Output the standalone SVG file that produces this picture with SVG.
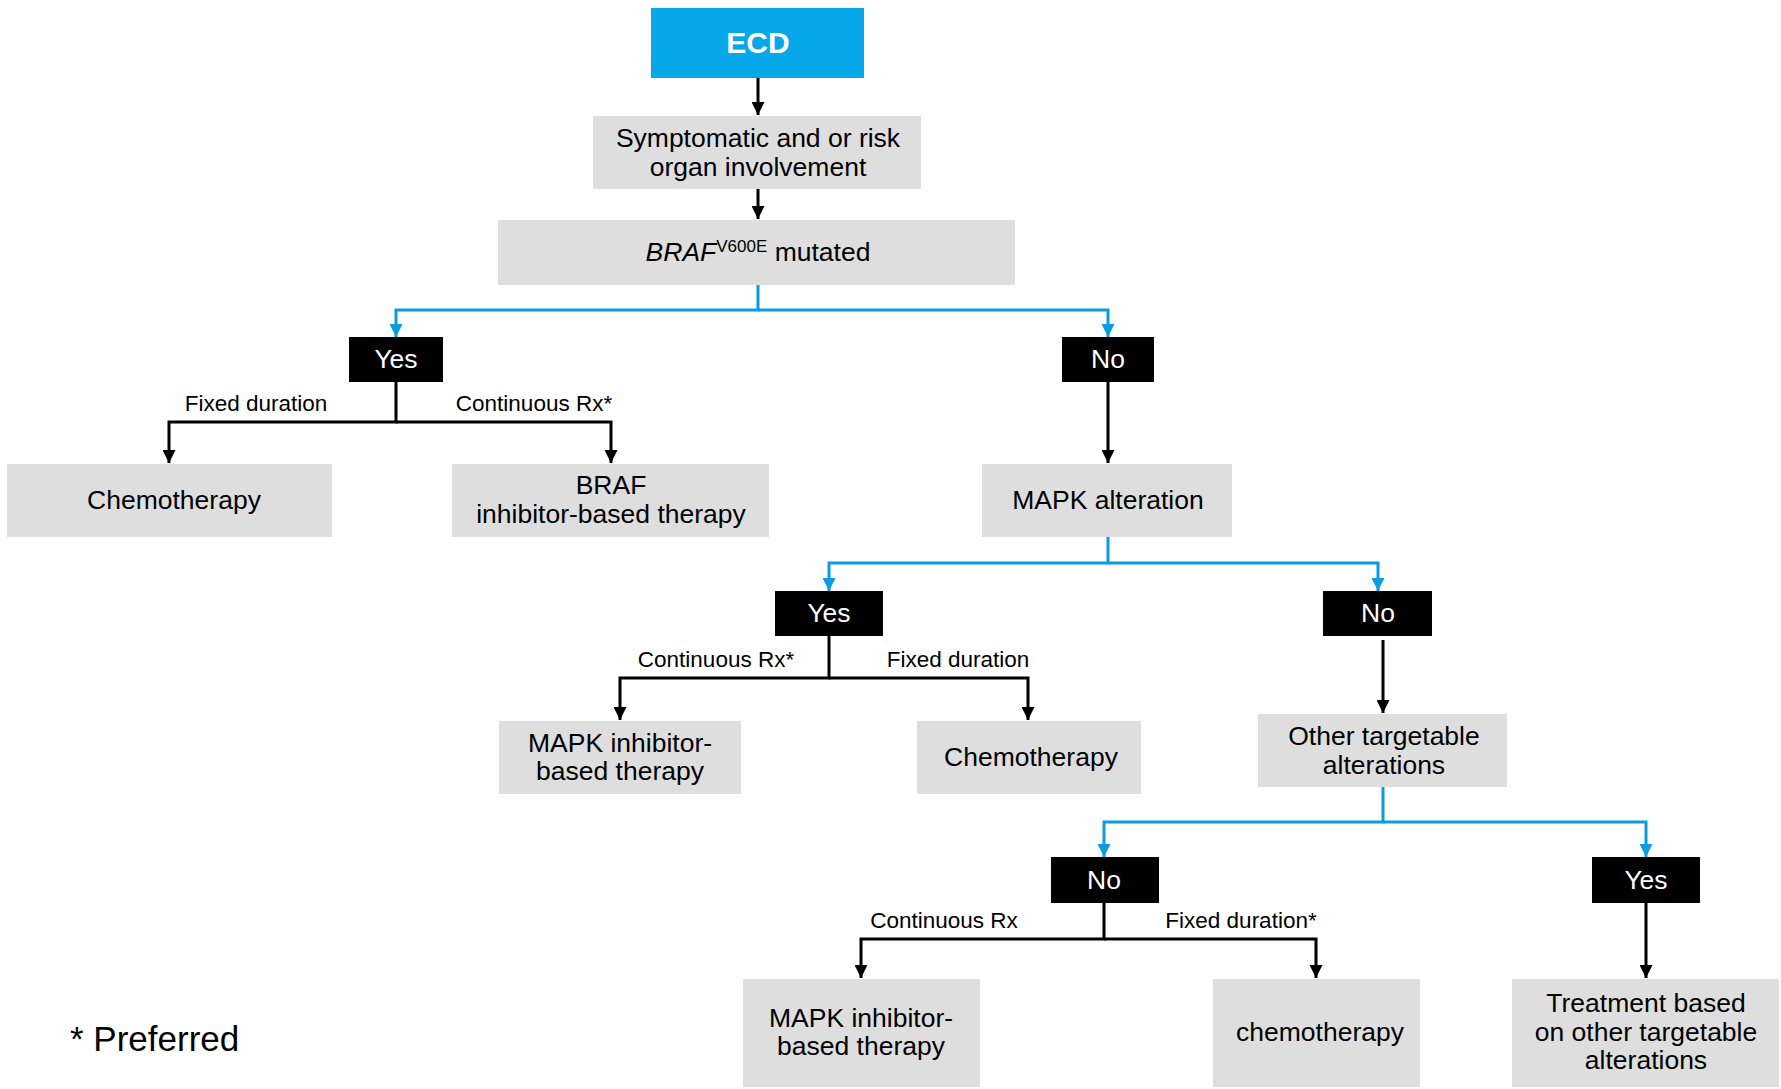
<svg xmlns="http://www.w3.org/2000/svg" width="1781" height="1089" viewBox="0 0 1781 1089">
<style>
  .box { fill: #dedede; }
  .dec { fill: #000; }
  .t { font-family: "Liberation Sans", Arial, sans-serif; font-size: 26.5px; fill: #000; text-anchor: middle; }
  .w { fill: #fff; }
  .lbl { font-family: "Liberation Sans", Arial, sans-serif; font-size: 22.5px; fill: #000; text-anchor: middle; }
  .k { fill: none; stroke: #000; stroke-width: 3; marker-end: url(#ak); }
  .b { fill: none; stroke: #0a9be0; stroke-width: 3; marker-end: url(#ab); }
</style>
<defs>
  <marker id="ak" viewBox="0 0 13 13" markerUnits="userSpaceOnUse" markerWidth="13" markerHeight="13" refX="13" refY="6.5" orient="auto">
    <path d="M0,0 L13,6.5 L0,13 z" fill="#000"/>
  </marker>
  <marker id="ab" viewBox="0 0 13 13" markerUnits="userSpaceOnUse" markerWidth="13" markerHeight="13" refX="13" refY="6.5" orient="auto">
    <path d="M0,0 L13,6.5 L0,13 z" fill="#0a9be0"/>
  </marker>
</defs>
<rect width="1781" height="1089" fill="#fff"/>

<g id="connectors">
  <path class="k" d="M758,77 V115"/>
  <path class="k" d="M758,189 V219"/>
  <path class="b" d="M758,285 V310 H396 V337"/>
  <path class="b" d="M758,310 H1108 V337"/>
  <path class="k" d="M396,382 V422 H169 V463"/>
  <path class="k" d="M396,422 H611 V463"/>
  <path class="k" d="M1108,382 V463"/>
  <path class="b" d="M1108,536 V563 H829 V591"/>
  <path class="b" d="M1108,563 H1378 V591"/>
  <path class="k" d="M829,636 V678 H620 V720"/>
  <path class="k" d="M829,678 H1028 V720"/>
  <path class="k" d="M1383,640 V713"/>
  <path class="b" d="M1383,786 V822 H1104 V857"/>
  <path class="b" d="M1383,822 H1646 V857"/>
  <path class="k" d="M1104,903 V939 H861 V978"/>
  <path class="k" d="M1104,939 H1316 V978"/>
  <path class="k" d="M1646,903 V978"/>
</g>

<g id="edge-labels">
  <text class="lbl" x="256" y="411">Fixed duration</text>
  <text class="lbl" x="534" y="411">Continuous Rx*</text>
  <text class="lbl" x="716" y="667">Continuous Rx*</text>
  <text class="lbl" x="958" y="667">Fixed duration</text>
  <text class="lbl" x="944" y="928">Continuous Rx</text>
  <text class="lbl" x="1241" y="928">Fixed duration*</text>
</g>

<g id="ecd">
  <rect x="651" y="8" width="213" height="70" fill="#06a8ea"/>
  <text x="758" y="53" font-family="Liberation Sans, Arial, sans-serif" font-size="30" font-weight="bold" fill="#fff" text-anchor="middle">ECD</text>
</g>
<g id="symptomatic">
  <rect class="box" x="593" y="116" width="328" height="73"/>
  <text class="t" x="758" y="147">Symptomatic and or risk</text>
  <text class="t" x="758" y="176">organ involvement</text>
</g>
<g id="braf">
  <rect class="box" x="498" y="220" width="517" height="65"/>
  <text class="t" x="758" y="261"><tspan font-style="italic">BRAF</tspan><tspan font-size="17" dy="-9">V600E</tspan><tspan dy="9"> mutated</tspan></text>
</g>
<g id="yes1">
  <rect class="dec" x="349" y="337" width="94" height="45"/>
  <text class="t w" x="396" y="368">Yes</text>
</g>
<g id="no1">
  <rect class="dec" x="1062" y="337" width="92" height="45"/>
  <text class="t w" x="1108" y="368">No</text>
</g>
<g id="chemo1">
  <rect class="box" x="7" y="464" width="325" height="73"/>
  <text class="t" x="174" y="509">Chemotherapy</text>
</g>
<g id="braf-inhib">
  <rect class="box" x="452" y="464" width="317" height="73"/>
  <text class="t" x="611" y="494">BRAF</text>
  <text class="t" x="611" y="523">inhibitor-based therapy</text>
</g>
<g id="mapk-alt">
  <rect class="box" x="982" y="464" width="250" height="73"/>
  <text class="t" x="1108" y="509">MAPK alteration</text>
</g>
<g id="yes2">
  <rect class="dec" x="775" y="591" width="108" height="45"/>
  <text class="t w" x="829" y="622">Yes</text>
</g>
<g id="no2">
  <rect class="dec" x="1323" y="591" width="109" height="45"/>
  <text class="t w" x="1378" y="622">No</text>
</g>
<g id="mapk-inhib1">
  <rect class="box" x="499" y="721" width="242" height="73"/>
  <text class="t" x="620" y="752">MAPK inhibitor-</text>
  <text class="t" x="620" y="780">based therapy</text>
</g>
<g id="chemo2">
  <rect class="box" x="917" y="721" width="224" height="73"/>
  <text class="t" x="1031" y="766">Chemotherapy</text>
</g>
<g id="other">
  <rect class="box" x="1258" y="714" width="249" height="73"/>
  <text class="t" x="1384" y="745">Other targetable</text>
  <text class="t" x="1384" y="774">alterations</text>
</g>
<g id="no3">
  <rect class="dec" x="1051" y="857" width="108" height="46"/>
  <text class="t w" x="1104" y="889">No</text>
</g>
<g id="yes3">
  <rect class="dec" x="1592" y="857" width="108" height="46"/>
  <text class="t w" x="1646" y="889">Yes</text>
</g>
<g id="mapk-inhib2">
  <rect class="box" x="743" y="979" width="237" height="108"/>
  <text class="t" x="861" y="1027">MAPK inhibitor-</text>
  <text class="t" x="861" y="1055">based therapy</text>
</g>
<g id="chemo3">
  <rect class="box" x="1213" y="979" width="207" height="108"/>
  <text class="t" x="1320" y="1041">chemotherapy</text>
</g>
<g id="treatment">
  <rect class="box" x="1512" y="979" width="267" height="108"/>
  <text class="t" x="1646" y="1012">Treatment based</text>
  <text class="t" x="1646" y="1041">on other targetable</text>
  <text class="t" x="1646" y="1069">alterations</text>
</g>
<text x="70" y="1051" font-family="Liberation Sans, Arial, sans-serif" font-size="35" fill="#000">* Preferred</text>
</svg>
